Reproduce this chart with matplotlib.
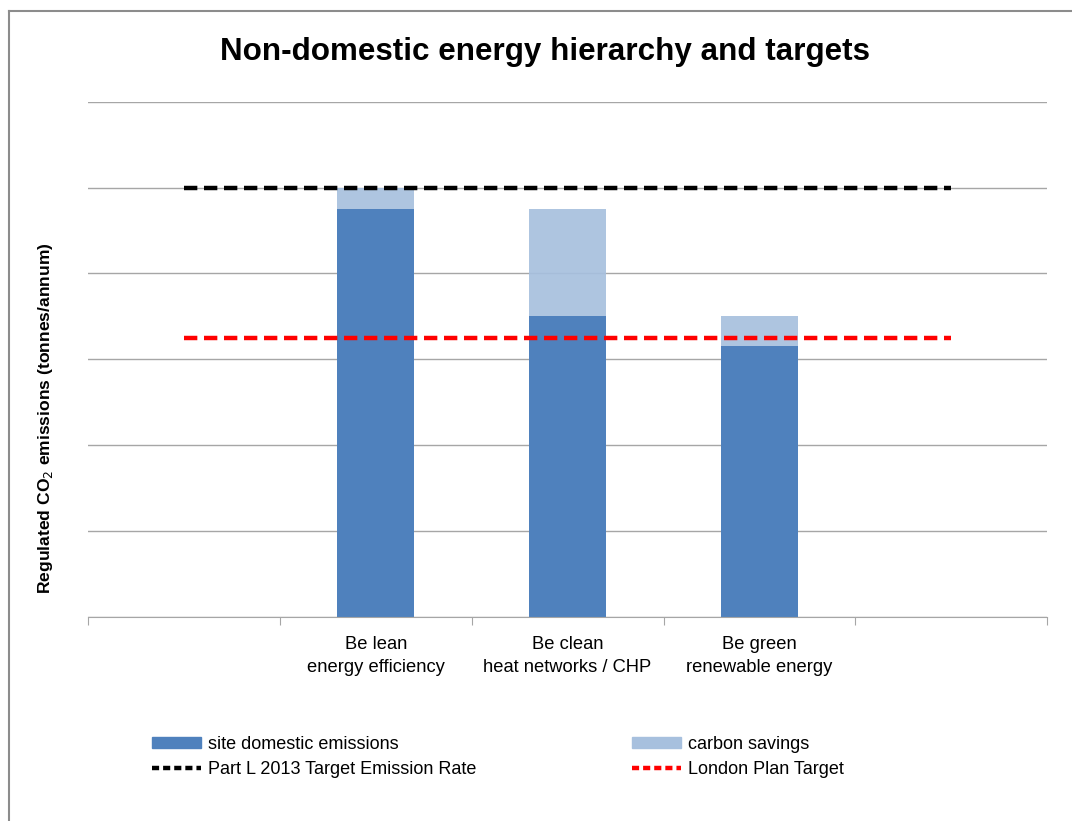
import numpy as np
import matplotlib.pyplot as plt
from matplotlib.lines import Line2D
from matplotlib.patches import Patch

FONT = ["Liberation Sans Narrow", "Liberation Sans", "DejaVu Sans"]
plt.rcParams["font.family"] = FONT

categories = ["", "Be lean\nenergy efficiency", "Be clean\nheat networks / CHP",
              "Be green\nrenewable energy", ""]
site_emissions = [0, 4.75, 3.5, 3.15, 0]
carbon_savings = [0, 0.25, 1.25, 0.35, 0]
part_l_target = [5.0, 5.0, 5.0, 5.0, 5.0]
london_plan_target = [3.25, 3.25, 3.25, 3.25, 3.25]

DARK = "#4F81BD"
LIGHT = "#A7C0DE"
GRID = "#A6A6A6"

fig = plt.figure(figsize=(10.72, 8.21), dpi=100)
fig.patch.set_facecolor("white")
ax = fig.add_axes([0.082, 0.249, 0.895, 0.627])

x = np.arange(len(categories))
ax.bar(x, site_emissions, width=0.4, color=DARK, zorder=2)
ax.bar(x, carbon_savings, width=0.4, bottom=site_emissions, color=LIGHT,
       alpha=0.92, zorder=2)
ax.plot(x, part_l_target, color="black", lw=3.2, dashes=(3, 1.5), zorder=3)
ax.plot(x, london_plan_target, color="#FF0000", lw=3.2, dashes=(3, 1.5), zorder=3)

ax.set_xlim(-0.5, 4.5)
ax.set_ylim(0, 6)
ax.set_yticks(np.arange(0, 7, 1))
ax.set_yticklabels([])
ax.tick_params(axis="y", length=0)
ax.yaxis.grid(True, color=GRID, lw=1)
ax.set_axisbelow(True)

# category boundaries get the tick marks, labels sit in the middle
ax.set_xticks(np.arange(-0.5, 5, 1))
ax.set_xticklabels([])
ax.tick_params(axis="x", which="major", direction="out", length=6, color=GRID)
ax.set_xticks(x, minor=True)
ax.set_xticklabels(categories, minor=True, fontsize=13.2, linespacing=1.45)
ax.tick_params(axis="x", which="minor", length=0, pad=14)

for s in ["left", "right", "top"]:
    ax.spines[s].set_visible(False)
ax.spines["bottom"].set_color(GRID)

ax.set_ylabel("Regulated CO$_2$ emissions (tonnes/annum)", fontsize=12.6,
              fontweight="bold")
ax.yaxis.set_label_coords(-0.034, 0.386)

fig.text(0.508, 0.937, "Non-domestic energy hierarchy and targets",
         ha="center", va="center", fontsize=22.6, fontweight="bold")

handles = [
    Patch(color=DARK, label="site domestic emissions"),
    Line2D([], [], color="black", lw=3.2, dashes=(1.6, 0.9), label="Part L 2013 Target Emission Rate"),
    Patch(color=LIGHT, label="carbon savings"),
    Line2D([], [], color="#FF0000", lw=3.2, dashes=(1.6, 0.9), label="London Plan Target"),
]
fig.legend(handles=handles, ncol=2, loc="upper left", bbox_to_anchor=(0.127, 0.123),
           frameon=False, fontsize=13, handlelength=2.7, handleheight=0.55,
           handletextpad=0.4, columnspacing=8.6, labelspacing=0.45)

# outer frame of the chart area
fig.add_artist(Line2D([0.008, 0.008], [0.0, 0.987], color="#8C8C8C", lw=1.5))
fig.add_artist(Line2D([0.008, 1.0], [0.987, 0.987], color="#8C8C8C", lw=1.5))

fig.savefig("out.png", dpi=100)
